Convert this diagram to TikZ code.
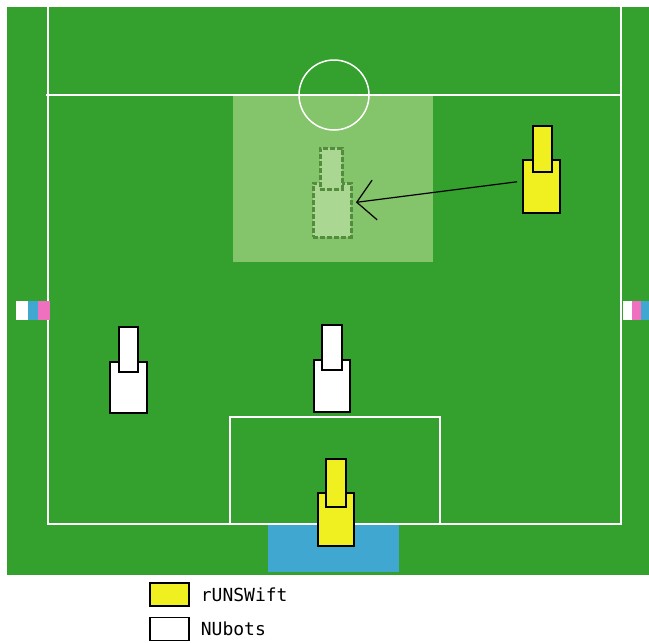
\documentclass[tikz,border=0pt]{standalone}
\usepackage{fontspec}
\newfontfamily\legfont{DejaVu Sans Mono}
\usetikzlibrary{arrows.meta,positioning}
\definecolor{pitch}{RGB}{52,160,45}
\definecolor{zone}{RGB}{132,196,106}
\definecolor{ghostfill}{RGB}{170,216,146}
\definecolor{ghostline}{RGB}{84,140,62}
\definecolor{goalblue}{RGB}{64,168,208}
\definecolor{beaconpink}{RGB}{240,112,192}
\definecolor{botyellow}{RGB}{240,240,32}
\begin{document}
\begin{tikzpicture}[x=1pt,y=-1pt,
 line/.style={draw=white,line width=2pt},
 robot/.style={draw=black,line width=1.3pt,rectangle,inner sep=0pt,outer sep=0pt},
 ybot/.style={robot,fill=botyellow},
 nbot/.style={robot,fill=white},
 ghost/.style={draw=ghostline,dashed,dash pattern=on 5pt off 2pt,line width=3pt,fill=ghostfill,rectangle,inner sep=0pt,outer sep=0pt},
 arr/.style={-{Straight Barb[length=18pt,width=40pt]},line width=1.2pt},
 legbox/.style={draw=black,line width=1.3pt,minimum width=39pt,minimum height=23pt,inner sep=0pt},
 legtext/.style={font=\legfont\fontsize{18}{18}\selectfont,inner sep=0pt}]
\useasboundingbox (0,0) rectangle (649,643);
% pitch
\fill[pitch] (7,7) rectangle (649,575);
\fill[zone] (233,95) rectangle (433,262);
\fill[goalblue] (268,524) rectangle (399,572);
\draw[line] (48,7) -- (48,524) -- (621,524) -- (621,7);
\draw[line] (46,95) -- (621,95);
\draw[line,line width=1.5pt] (334,95) circle (35);
\draw[line] (230,524) -- (230,417) -- (440,417) -- (440,524);
% beacons
\fill[white] (16,301) rectangle (28,320);
\fill[goalblue] (28,301) rectangle (38,320);
\fill[beaconpink] (38,301) rectangle (50,320);
\fill[white] (623,301) rectangle (632,320);
\fill[beaconpink] (632,301) rectangle (641,320);
\fill[goalblue] (641,301) rectangle (649,320);
% ghost robot
\node[ghost,minimum width=38pt,minimum height=54pt] (gbody) at (332,210) {};
\node[ghost,minimum width=22pt,minimum height=41pt] (ghead) at (331,168.5) {};
% rUNSWift robots
\node[ybot,minimum width=37pt,minimum height=53pt] (y1body) at (541.5,186.5) {};
\node[ybot,minimum width=19pt,minimum height=46pt] (y1head) at (542.5,149) {};
\node[ybot,minimum width=36pt,minimum height=53pt] (y2body) at (336,519.5) {};
\node[ybot,minimum width=20pt,minimum height=48pt] (y2head) at (336,483) {};
% NUbots robots
\node[nbot,minimum width=37pt,minimum height=51pt] (n1body) at (128.5,387.5) {};
\node[nbot,minimum width=19pt,minimum height=45pt] (n1head) at (128.5,349.5) {};
\node[nbot,minimum width=36pt,minimum height=52pt] (n2body) at (332,386) {};
\node[nbot,minimum width=20pt,minimum height=45pt] (n2head) at (332,347.5) {};
\draw[arr,shorten <=6pt,shorten >=5pt] (y1body.west |- 0,181) -- (gbody.east |- 0,203);
% legend
\node[legbox,fill=botyellow] (legy) at (169.5,594.5) {};
\node[legbox,fill=white] (legn) at (169.5,629) {};
\node[legtext,anchor=west,right=11pt of legy] (ly) {rUNSWift};
\node[legtext,anchor=west,right=11pt of legn] (ln) {NUbots};
\end{tikzpicture}
\end{document}
